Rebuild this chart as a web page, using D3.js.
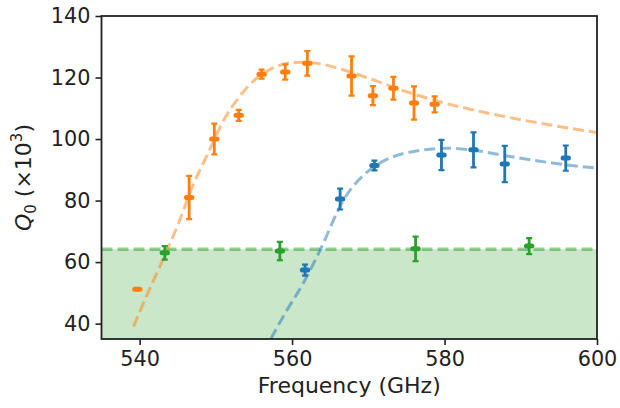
<!DOCTYPE html>
<html>
<head>
<meta charset="utf-8">
<script src="https://cdn.jsdelivr.net/npm/d3@7"></script>
<style>
  body { margin: 0; background: #fff; }
  text { font-family: "DejaVu Sans", sans-serif; fill: #222; }
</style>
</head>
<body>
<div id="chart"></div>
<script>
// measured points (frequency in GHz, Q0 in units of 1e3)
const orangeFreq = [539.7, 546.5, 549.8, 553.0, 556.0, 559.1, 562.0, 567.8, 570.6, 573.3, 576.0, 578.7];
const orangeQ    = [51.2, 81.0, 100.0, 107.7, 121.1, 121.8, 124.6, 120.5, 114.1, 116.5, 111.7, 111.3];
const orangeErr  = [0.3, 7.0, 5.0, 1.8, 1.5, 2.5, 4.0, 6.4, 3.1, 3.7, 5.4, 2.6];

const blueFreq = [561.7, 566.3, 570.8, 579.6, 583.8, 587.9, 595.9];
const blueQ    = [57.4, 80.5, 91.4, 94.8, 96.5, 91.9, 93.8];
const blueErr  = [1.8, 3.4, 1.6, 4.9, 5.7, 5.9, 4.1];

const greenFreq = [543.3, 558.4, 576.2, 591.1];
const greenQ    = [63.0, 63.6, 64.3, 65.2];
const greenErr  = [2.2, 3.0, 4.0, 2.6];
const greenLevel = 64.2;

const freqErr = 0.35;

// fitted curves
const orangeFitF = [539.2, 541, 543, 545, 547, 549, 551, 553, 555, 557, 559, 561, 563, 565, 567, 570, 575, 580, 585, 590, 595, 600];
const orangeFitQ = [39, 49.5, 60.5, 72, 85, 95.5, 106, 113.5, 119, 122.5, 124.4, 125, 124.7, 123.7, 122.3, 119.8, 115.4, 111.7, 108.8, 106.3, 104.1, 102.1];
const blueFitF = [557.2, 559, 561.5, 563.7, 566.7, 570.2, 573, 576.5, 580.5, 584, 588, 592.5, 596, 600];
const blueFitQ = [35, 43, 53.3, 64, 80, 90, 94, 96.2, 97, 96.3, 94.6, 92.8, 91.6, 90.6];

const xTicks = [540, 560, 580, 600];
const yTicks = [40, 60, 80, 100, 120, 140];

const width = 620, height = 408;
const marginTop = 16, marginRight = 23, marginBottom = 69, marginLeft = 101.5;

const orange = "#ff7f0e", blue = "#1f77b4", green = "#2ca02c";

const x = d3.scaleLinear().domain([535, 600]).range([marginLeft, width - marginRight]);
const y = d3.scaleLinear().domain([35, 140]).range([height - marginBottom, marginTop]);

const svg = d3.select("#chart").append("svg")
  .attr("width", width)
  .attr("height", height)
  .attr("viewBox", [0, 0, width, height]);

svg.append("defs").append("clipPath").attr("id", "clip")
  .append("rect")
  .attr("x", marginLeft).attr("y", marginTop)
  .attr("width", x(600) - marginLeft).attr("height", y(35) - marginTop);

const plot = svg.append("g").attr("clip-path", "url(#clip)");

// shaded band below the green level
plot.append("rect")
  .attr("x", x(535)).attr("y", y(greenLevel))
  .attr("width", x(600) - x(535)).attr("height", y(35) - y(greenLevel))
  .attr("fill", green).attr("fill-opacity", 0.25);

plot.append("line")
  .attr("x1", x(535)).attr("x2", x(600))
  .attr("y1", y(greenLevel)).attr("y2", y(greenLevel))
  .attr("stroke", green).attr("stroke-opacity", 0.5)
  .attr("stroke-width", 3.5).attr("stroke-dasharray", "11,5");

// fit curves
const line = d3.line().x(d => x(d[0])).y(d => y(d[1])).curve(d3.curveMonotoneX);
[[orangeFitF, orangeFitQ, orange], [blueFitF, blueFitQ, blue]].forEach(([f, q, c]) => {
  plot.append("path")
    .datum(f.map((v, i) => [v, q[i]]))
    .attr("d", line)
    .attr("fill", "none")
    .attr("stroke", c).attr("stroke-opacity", 0.5)
    .attr("stroke-width", 3).attr("stroke-dasharray", "11,5");
});

// error bars: thin vertical bar with caps, short thick horizontal bar
function errorBars(freq, q, qErr, color) {
  const g = plot.append("g").attr("stroke", color).attr("fill", "none");
  const data = freq.map((f, i) => ({ f, q: q[i], e: qErr[i] }));
  const pts = g.selectAll("g").data(data).join("g");
  pts.append("line")
    .attr("x1", d => x(d.f)).attr("x2", d => x(d.f))
    .attr("y1", d => y(d.q + d.e)).attr("y2", d => y(d.q - d.e))
    .attr("stroke-width", 2.8);
  pts.selectAll(".cap").data(d => [[d.f, d.q + d.e], [d.f, d.q - d.e]]).join("line")
    .attr("x1", d => x(d[0]) - 3).attr("x2", d => x(d[0]) + 3)
    .attr("y1", d => y(d[1])).attr("y2", d => y(d[1]))
    .attr("stroke-width", 2.2);
  pts.append("line")
    .attr("x1", d => x(d.f - freqErr)).attr("x2", d => x(d.f + freqErr))
    .attr("y1", d => y(d.q)).attr("y2", d => y(d.q))
    .attr("stroke-width", 5)
    .attr("stroke-linecap", "round");
}
errorBars(greenFreq, greenQ, greenErr, green);
errorBars(blueFreq, blueQ, blueErr, blue);
errorBars(orangeFreq, orangeQ, orangeErr, orange);

// axes
const xAxis = svg.append("g")
  .attr("transform", `translate(0,${height - marginBottom})`)
  .call(d3.axisBottom(x).tickValues(xTicks).tickSize(6).tickPadding(6));
const yAxis = svg.append("g")
  .attr("transform", `translate(${marginLeft},0)`)
  .call(d3.axisLeft(y).tickValues(yTicks).tickSize(6).tickPadding(5));

[xAxis, yAxis].forEach(a => {
  a.select(".domain").remove();
  a.selectAll(".tick line").attr("stroke", "#222").attr("stroke-width", 1.6);
  a.selectAll(".tick text").attr("font-size", 20.8).attr("fill", "#222")
    .attr("font-family", "DejaVu Sans");
});

// frame
svg.append("rect")
  .attr("x", marginLeft).attr("y", marginTop)
  .attr("width", x(600) - marginLeft).attr("height", y(35) - marginTop)
  .attr("fill", "none").attr("stroke", "#222").attr("stroke-width", 1.8);

// labels
svg.append("text")
  .attr("x", (marginLeft + x(600)) / 2)
  .attr("y", 393)
  .attr("text-anchor", "middle")
  .attr("font-size", 22)
  .text("Frequency (GHz)");

const yl = svg.append("text")
  .attr("transform", `translate(31,${(marginTop + y(35)) / 2}) rotate(-90)`)
  .attr("text-anchor", "middle")
  .attr("font-size", 22);
yl.append("tspan").attr("font-style", "italic").text("Q");
yl.append("tspan").attr("font-size", 15).attr("dy", 5).text("0");
yl.append("tspan").attr("dy", -5).text(" (×10");
yl.append("tspan").attr("font-size", 15).attr("dy", -9).text("3");
yl.append("tspan").attr("dy", 9).text(")");
</script>
</body>
</html>
